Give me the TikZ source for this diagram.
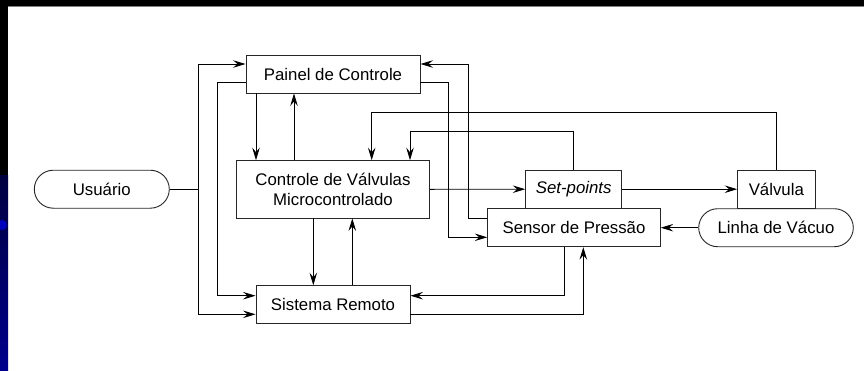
\documentclass[tikz,border=0pt]{standalone}
\usepackage{fontspec}
\setmainfont{Liberation Sans}
\usetikzlibrary{arrows.meta}
\usetikzlibrary{calc}
\tikzset{bloco/.style={draw=black!85, line width=0.9pt, minimum height=38pt, inner sep=0pt, font=\fontsize{16.8}{20}\selectfont}}
\tikzset{terminal/.style={bloco, rounded corners=19pt}}
\tikzset{fio/.style={line width=0.9pt}}
\tikzset{seta/.style={fio, -{Stealth[length=12.5pt,width=7.5pt,inset=4.5pt]}}}
\begin{document}
\begin{tikzpicture}[x=1pt, y=-1pt]
        % background
        \useasboundingbox (0,0) rectangle (864,370);
        \fill[white] (0,0) rectangle (864,370);
        \fill[black] (0,0) rectangle (864,6);
        \draw[gray, line width=0.8pt] (8,6.6) -- (864,6.6);
        \fill[black] (0,0) rectangle (8,175);
        \shade[top color=blue!25!black, bottom color=blue!55!black] (0,175) rectangle (8,370);
        \fill[blue!75!black] (2,225) circle (5);
        % blocks
        \node[terminal, minimum width=135pt] (usuario) at (101.8,189.2) {Usuário};
        \node[bloco, minimum width=174pt] (painel) at (333,74) {Painel de Controle};
        \node[bloco, minimum width=192.6pt, minimum height=57.3pt, align=center] (controle) at (333,189.3) {Controle de Válvulas\\Microcontrolado};
        \node[bloco, minimum width=154pt] (sistema) at (333,304.7) {Sistema Remoto};
        \node[bloco, minimum width=96pt] (setpoints) at (573.7,189.2) {\itshape Set-points};
        \node[bloco, minimum width=172.6pt] (sensor) at (574,227.7) {Sensor de Pressão};
        \node[bloco, minimum width=77.3pt] (valvula) at (776.3,189.2) {Válvula};
        \node[terminal, minimum width=154.6pt] (linha) at (776,227.7) {Linha de Vácuo};
        % usuario
        \coordinate (ju) at (198,189.2);
        \draw[fio] (usuario.east) -- (ju);
        \draw[seta] (ju) |- ($(painel.west)+(0,-10)$);
        \draw[seta] (ju) |- ($(sistema.west)+(0,9.6)$);
        % painel
        \draw[seta] ($(painel.west)+(0,8.7)$) -| (217.7,250) |- ($(sistema.west)+(0,-9)$);
        \draw[seta] ($(painel.south)+(-77,0)$) -- ($(controle.north)+(-77,0)$);
        \draw[seta] ($(controle.north)+(-39,0)$) -- ($(painel.south)+(-39,0)$);
        \draw[seta] ($(painel.east)+(0,8.7)$) -| (448.3,150) |- ($(sensor.west)+(0,9.6)$);
        % controle
        \draw[seta] ($(controle.south)+(-19.7,0)$) -- ($(sistema.north)+(-19.7,0)$);
        \draw[seta] ($(sistema.north)+(19.3,0)$) -- ($(controle.south)+(19.3,0)$);
        \draw[seta] (controle.east) -- (setpoints.west);
        % set-points and valvula
        \draw[seta] (setpoints.east) -- (valvula.west);
        \draw[seta] (valvula.north) |- (371.7,112) -- ($(controle.north)+(38.7,0)$);
        \draw[seta] (setpoints.north) |- (410,131) -- ($(controle.north)+(77,0)$);
        % sensor
        \draw[seta] (linha.west) -- (sensor.east);
        \draw[seta] ($(sensor.west)+(0,-9.4)$) -| (468.3,100) |- ($(painel.east)+(0,-10)$);
        \draw[seta] ($(sensor.south)+(-9.3,0)$) |- ($(sistema.east)+(0,-9)$);
        \draw[seta] ($(sistema.east)+(0,9.6)$) -| ($(sensor.south)+(9.3,0)$);
    \end{tikzpicture}
\end{document}
